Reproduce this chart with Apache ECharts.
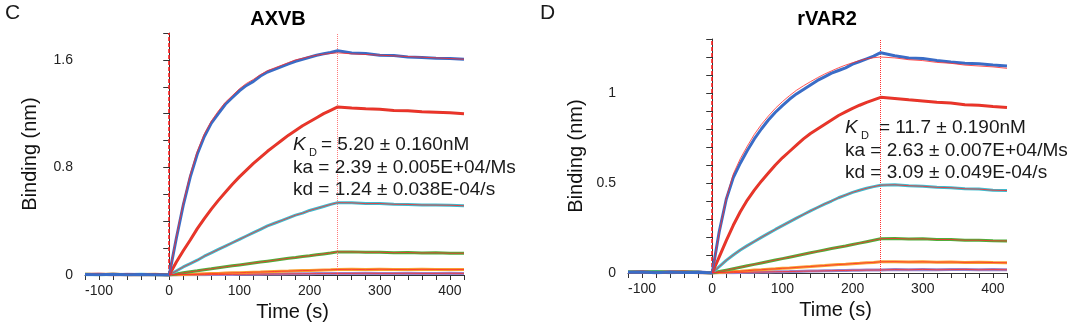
<!DOCTYPE html>
<html>
<head>
<meta charset="utf-8">
<script src="https://cdn.jsdelivr.net/npm/echarts@6/dist/echarts.min.js"></script>
<style>html,body{margin:0;padding:0;background:#fff;}#c{width:1080px;height:323px;}</style>
</head>
<body>
<div id="c"></div>
<script>
// time points (s)
const times = [-120,-100,-80,-60,-40,-20,
  0,10,20,30,40,50,60,70,80,90,100,110,120,130,140,150,160,170,180,190,200,210,220,230,240,
  260,280,300,320,340,360,380,400,420];
const fitTimes = times.slice(6);

// Panel C: AXVB (binding, nm)
const axvbBlue   = [0.004,0.002,0.006,0.001,0.003,0.002, 0,0.27,0.52,0.73,0.90,1.03,1.13,1.20,1.27,1.32,1.37,1.41,1.44,1.48,1.51,1.53,1.55,1.57,1.59,1.605,1.62,1.635,1.645,1.655,1.668, 1.652,1.648,1.635,1.632,1.622,1.618,1.612,1.61,1.605];
const axvbBlueFit = [0,0.28,0.535,0.75,0.92,1.05,1.145,1.22,1.285,1.335,1.385,1.425,1.455,1.49,1.52,1.54,1.56,1.58,1.60,1.612,1.625,1.635,1.642,1.648,1.652, 1.645,1.64,1.635,1.63,1.625,1.62,1.615,1.61,1.605];
const axvbRed    = [0.003,0.005,0.001,0.004,0.002,0.003, 0,0.095,0.18,0.26,0.345,0.42,0.49,0.555,0.615,0.675,0.73,0.78,0.83,0.875,0.92,0.96,1.0,1.04,1.075,1.11,1.14,1.17,1.20,1.225,1.25, 1.242,1.236,1.232,1.224,1.222,1.214,1.21,1.206,1.20];
const axvbCyan   = [0.002,0.004,0.003,0.001,0.005,0.002, 0,0.03,0.06,0.085,0.11,0.14,0.165,0.19,0.215,0.24,0.265,0.29,0.315,0.34,0.365,0.385,0.405,0.425,0.445,0.46,0.48,0.495,0.51,0.525,0.538, 0.537,0.531,0.532,0.526,0.525,0.521,0.52,0.519,0.515];
const axvbGreen  = [0.005,0.002,0.004,0.003,0.001,0.004, 0,0.008,0.016,0.024,0.031,0.039,0.046,0.054,0.061,0.068,0.075,0.082,0.089,0.096,0.103,0.11,0.117,0.124,0.13,0.137,0.143,0.15,0.157,0.164,0.172, 0.172,0.169,0.169,0.166,0.167,0.164,0.165,0.162,0.162];
const axvbOrange = [0.006,0.003,0.007,0.002,0.004,0.005, 0,0.002,0.004,0.005,0.007,0.009,0.011,0.012,0.014,0.016,0.017,0.019,0.021,0.022,0.024,0.026,0.028,0.029,0.031,0.033,0.034,0.036,0.038,0.039,0.041, 0.042,0.04,0.043,0.041,0.04,0.042,0.041,0.04,0.041];
const axvbPurple = [0.003,0.006,0.002,0.005,0.003,0.004, 0,0.0005,0.001,0.0015,0.002,0.0025,0.003,0.0035,0.004,0.0045,0.005,0.0055,0.006,0.0065,0.007,0.0075,0.008,0.0085,0.009,0.0095,0.01,0.0105,0.011,0.0115,0.012, 0.012,0.013,0.012,0.012,0.013,0.012,0.012,0.013,0.012];

// Panel D: rVAR2 (binding, nm)
const rvarBlue   = [0.004,0.006,0.002,0.005,0.003,0.004, 0,0.23,0.41,0.53,0.61,0.68,0.745,0.80,0.85,0.893,0.93,0.965,0.995,1.02,1.045,1.07,1.09,1.11,1.125,1.14,1.16,1.175,1.19,1.205,1.224, 1.207,1.195,1.192,1.18,1.172,1.165,1.162,1.155,1.15];
const rvarBlueFit = [0,0.225,0.415,0.55,0.635,0.705,0.77,0.825,0.872,0.915,0.952,0.985,1.015,1.04,1.063,1.085,1.105,1.123,1.14,1.155,1.168,1.18,1.19,1.196,1.20, 1.195,1.185,1.18,1.17,1.165,1.155,1.15,1.145,1.137];
const rvarRed    = [0.003,0.005,0.002,0.004,0.006,0.002, 0,0.09,0.18,0.265,0.34,0.405,0.46,0.51,0.555,0.60,0.64,0.675,0.71,0.745,0.775,0.80,0.825,0.85,0.875,0.895,0.915,0.932,0.948,0.962,0.976, 0.97,0.962,0.956,0.948,0.944,0.935,0.932,0.925,0.92];
const rvarCyan   = [0.005,0.003,0.006,0.002,0.004,0.003, 0,0.035,0.07,0.10,0.128,0.152,0.175,0.198,0.22,0.242,0.263,0.284,0.305,0.325,0.345,0.364,0.383,0.40,0.418,0.433,0.448,0.46,0.471,0.48,0.488, 0.49,0.485,0.482,0.476,0.474,0.468,0.466,0.46,0.458];
const rvarGreen  = [0.006,0.004,0.008,0.003,0.005,0.004, 0,0.008,0.016,0.024,0.032,0.04,0.048,0.056,0.064,0.072,0.08,0.088,0.096,0.104,0.112,0.12,0.128,0.136,0.143,0.15,0.158,0.166,0.174,0.182,0.19, 0.192,0.189,0.19,0.186,0.186,0.182,0.182,0.179,0.178];
const rvarOrange = [0.008,0.006,0.009,0.005,0.007,0.004, 0,0.003,0.005,0.008,0.01,0.013,0.016,0.018,0.021,0.023,0.026,0.028,0.031,0.034,0.036,0.039,0.041,0.044,0.047,0.049,0.052,0.054,0.057,0.059,0.062, 0.063,0.061,0.062,0.06,0.061,0.059,0.06,0.058,0.057];
const rvarPurple = [0.007,0.009,0.006,0.008,0.005,0.007, 0,0.001,0.0015,0.002,0.003,0.004,0.0045,0.005,0.006,0.007,0.0075,0.008,0.009,0.01,0.0105,0.011,0.012,0.013,0.0135,0.014,0.015,0.0155,0.016,0.0165,0.017, 0.019,0.018,0.02,0.018,0.019,0.02,0.018,0.019,0.018];

// tick labels
const xTickLabels = [-100, 0, 100, 200, 300, 400];
const yLabelsC = [0, 0.8, 1.6];
const yLabelsD = [0, 0.5, 1];

const COL = {blue:'#3a6cc6', red:'#dd3a2a', cyan:'#3fbdd0', green:'#4fae3c', orange:'#f6a033', purple:'#9a85cb', fit:'#ff2b2b'};
const FONT = 'Liberation Sans, Arial, sans-serif';

function pairs(ts, vs){ return ts.map((t,i)=>[t, vs[i]]); }

function panelSeries(g, d){
  const s = [];
  const list = [
    [d.purple, COL.purple],[d.orange, COL.orange],[d.green, COL.green],
    [d.cyan, COL.cyan],[d.red, COL.red],[d.blue, COL.blue]
  ];
  list.forEach(([vals,c],k)=>{
    s.push({type:'line', xAxisIndex:g, yAxisIndex:g, data:pairs(times, vals), showSymbol:false, symbol:'none',
      lineStyle:{color:c, width:3}, itemStyle:{color:c}, z:2+k, animation:false, silent:true,
      markLine: k===0 ? {silent:true, symbol:['none','none'], label:{show:false}, animation:false,
        data:[{xAxis:0, lineStyle:{color:'#ff2020', width:1.6, type:[4,2]}},
              {xAxis:240, lineStyle:{color: g===0 ? '#ff7a7a' : '#ff3030', width:1, type:[1,1]}}]} : undefined
    });
  });
  // fit lines
  const fits = [d.purple.slice(6), d.orange.slice(6), d.green.slice(6), d.cyan.slice(6), d.red.slice(6), d.blueFit];
  fits.forEach((vals,k)=>{
    s.push({type:'line', xAxisIndex:g, yAxisIndex:g, data:pairs(fitTimes, vals), showSymbol:false, symbol:'none',
      lineStyle:{color:COL.fit, width:0.9, opacity:0.9}, z:20, animation:false, silent:true});
  });
  return s;
}

function xAxisCfg(g){
  return {gridIndex:g, type:'value', min:-120, max:420, interval:20,
    axisLine:{onZero:false, lineStyle:{color:'#333', width:1}},
    axisTick:{length:5, lineStyle:{color:'#333', width:1}},
    axisLabel:{fontSize:14, color:'#222', fontFamily:FONT, margin:9,
      formatter:v=> xTickLabels.indexOf(v)>=0 ? String(v) : ''},
    splitLine:{show:false},
    name:'Time (s)', nameLocation:'middle', nameGap:27,
    nameTextStyle:{fontSize:20, color:'#111', fontFamily:FONT, padding:[0,0,0,36]}};
}
function yAxisCfg(g, max, labels, gap){
  return {gridIndex:g, type:'value', min:0, max:max, interval:0.1*(g===0?2:1),
    axisLine:{show:true, lineStyle:{color:'#333', width:1}},
    axisTick:{show:true, length:6, lineStyle:{color:'#333', width:1}},
    axisLabel:{fontSize:14, color:'#222', fontFamily:FONT, margin:12,
      formatter:v=> labels.some(l=>Math.abs(l-v)<1e-6) ? String(labels.find(l=>Math.abs(l-v)<1e-6)) : ''},
    splitLine:{show:false},
    name:'Binding (nm)', nameLocation:'middle', nameGap:gap,
    nameTextStyle:{fontSize:20, color:'#111', fontFamily:FONT}};
}

function txt(x,y,text,opt){
  return {type:'text', x:x, y:y, silent:true, z:100,
    style:Object.assign({text:text, fill:'#1a1a1a', fontSize:19, fontFamily:FONT, verticalAlign:'middle', align:'left'}, opt||{})};
}

const chart = echarts.init(document.getElementById('c'), null, {renderer:'canvas', width:1080, height:323});
chart.setOption({
  backgroundColor:'#fff',
  animation:false,
  grid:[
    {left:85, top:33, width:379, height:242, outerBoundsMode:'none', containLabel:false},
    {left:628, top:39, width:379, height:234, outerBoundsMode:'none', containLabel:false}
  ],
  xAxis:[xAxisCfg(0), xAxisCfg(1)],
  yAxis:[yAxisCfg(0, 1.8, yLabelsC, 45), yAxisCfg(1, 1.3, yLabelsD, 42)],
  series: panelSeries(0, {blue:axvbBlue, blueFit:axvbBlueFit, red:axvbRed, cyan:axvbCyan, green:axvbGreen, orange:axvbOrange, purple:axvbPurple})
    .concat(panelSeries(1, {blue:rvarBlue, blueFit:rvarBlueFit, red:rvarRed, cyan:rvarCyan, green:rvarGreen, orange:rvarOrange, purple:rvarPurple})),
  graphic:[
    txt(5, 13, 'C', {fontSize:21}),
    txt(540, 13, 'D', {fontSize:21}),
    txt(278, 19, 'AXVB', {fontSize:20, fontWeight:'bold', align:'center', fill:'#000'}),
    txt(827, 19, 'rVAR2', {fontSize:20, fontWeight:'bold', align:'center', fill:'#000'}),
    // panel C annotation
    txt(293, 145, 'K', {fontStyle:'italic'}),
    txt(309, 153, 'D', {fontSize:11}),
    txt(321, 145, '= 5.20 ± 0.160nM'),
    txt(293, 168, 'ka = 2.39 ± 0.005E+04/Ms'),
    txt(293, 190, 'kd = 1.24 ± 0.038E-04/s'),
    // panel D annotation
    txt(845, 128, 'K', {fontStyle:'italic'}),
    txt(861, 136, 'D', {fontSize:11}),
    txt(879, 128, '= 11.7 ± 0.190nM'),
    txt(845, 151, 'ka = 2.63 ± 0.007E+04/Ms'),
    txt(845, 173, 'kd = 3.09 ± 0.049E-04/s')
  ]
});
</script>
</body>
</html>
